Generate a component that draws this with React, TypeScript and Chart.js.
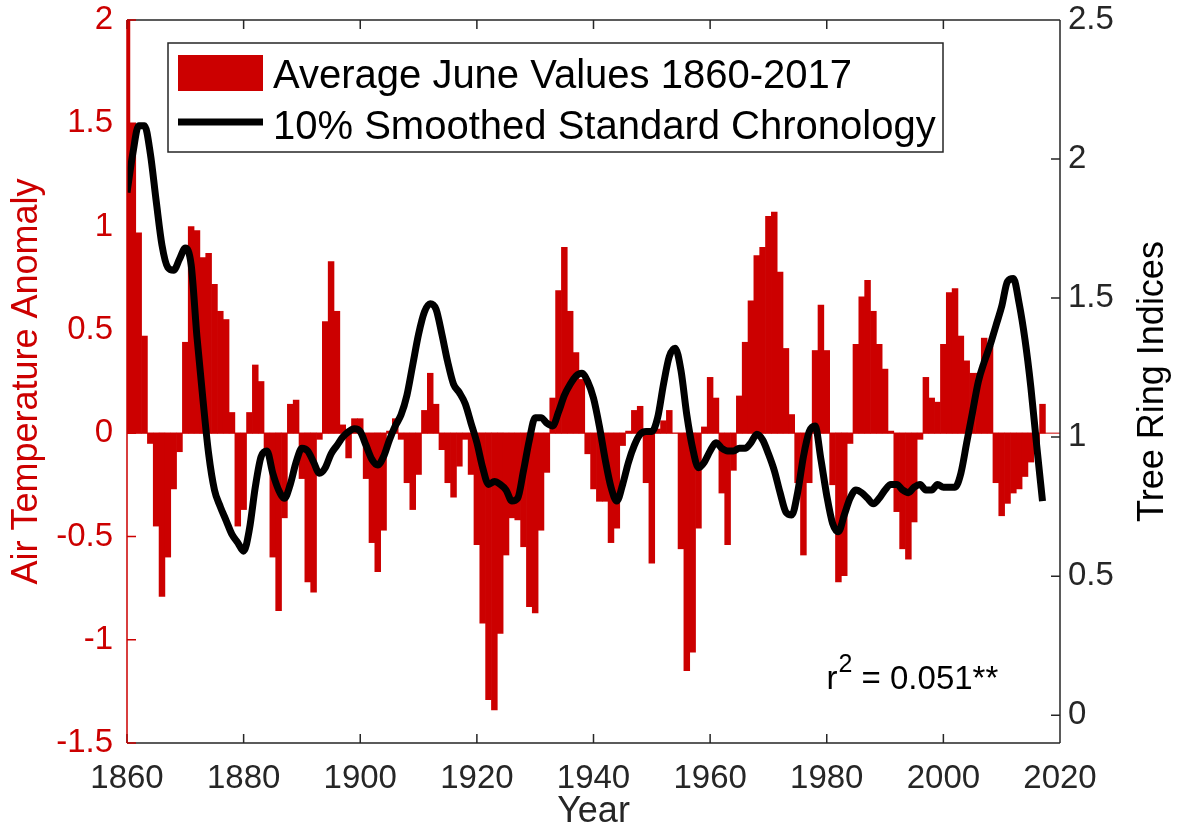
import React, { useEffect, useRef } from "react";
import { Chart, registerables } from "chart.js";

Chart.register(...registerables);

const START_YEAR = 1860;

// Average June air temperature anomaly (left axis), one value per year
const TEMP_1860S = [2.1, 1.5, 0.97, 0.47, -0.05, -0.45, -0.79, -0.6, -0.27, -0.09];
const TEMP_1870S = [0.44, 1.0, 0.98, 0.85, 0.87, 0.72, 0.59, 0.55, 0.1, -0.45];
const TEMP_1880S = [-0.37, 0.1, 0.33, 0.25, -0.1, -0.6, -0.86, -0.41, 0.14, 0.16];
const TEMP_1890S = [-0.22, -0.72, -0.77, -0.03, 0.54, 0.83, 0.59, 0.04, -0.12, 0.07];
const TEMP_1900S = [0.07, -0.22, -0.53, -0.67, -0.47, 0.01, 0.07, -0.03, -0.24, -0.37];
const TEMP_1910S = [-0.2, 0.11, 0.29, 0.14, -0.08, -0.24, -0.31, -0.16, -0.03, -0.2];
const TEMP_1920S = [-0.54, -0.92, -1.29, -1.34, -0.97, -0.59, -0.41, -0.42, -0.55, -0.84];
const TEMP_1930S = [-0.87, -0.47, -0.19, 0.17, 0.69, 0.9, 0.59, 0.39, 0.26, -0.1];
const TEMP_1940S = [-0.27, -0.33, -0.33, -0.53, -0.46, -0.06, 0.01, 0.11, 0.13, -0.24];
const TEMP_1950S = [-0.63, 0.02, 0.06, 0.11, 0.0, -0.56, -1.15, -1.06, -0.46, 0.03];
const TEMP_1960S = [0.27, 0.17, -0.29, -0.54, -0.18, 0.18, 0.44, 0.64, 0.86, 0.9];
const TEMP_1970S = [1.05, 1.07, 0.78, 0.41, 0.09, -0.24, -0.59, -0.24, 0.4, 0.62];
const TEMP_1980S = [0.4, -0.25, -0.72, -0.69, -0.05, 0.43, 0.66, 0.74, 0.59, 0.43];
const TEMP_1990S = [0.31, 0.01, -0.38, -0.56, -0.61, -0.43, -0.03, 0.27, 0.17, 0.15];
const TEMP_2000S = [0.43, 0.68, 0.7, 0.47, 0.35, 0.29, 0.29, 0.46, 0.42, -0.24];
const TEMP_2010S = [-0.4, -0.34, -0.29, -0.27, -0.21, -0.14, -0.07, 0.14];

// 10% smoothed standard chronology (right axis), one value per year
const CHRON_1860S = [1.88, 2.02, 2.12, 2.12, 2.02, 1.85, 1.69, 1.61, 1.6, 1.64];
const CHRON_1870S = [1.68, 1.62, 1.36, 1.14, 0.94, 0.81, 0.75, 0.7, 0.65, 0.62];
const CHRON_1880S = [0.59, 0.67, 0.82, 0.93, 0.95, 0.87, 0.81, 0.78, 0.83, 0.91];
const CHRON_1890S = [0.96, 0.95, 0.91, 0.87, 0.89, 0.94, 0.97, 1.0, 1.02, 1.03];
const CHRON_1900S = [1.02, 0.97, 0.92, 0.9, 0.93, 0.99, 1.04, 1.08, 1.15, 1.26];
const CHRON_1910S = [1.37, 1.45, 1.48, 1.46, 1.37, 1.27, 1.19, 1.16, 1.12, 1.05];
const CHRON_1920S = [0.98, 0.89, 0.83, 0.84, 0.83, 0.81, 0.77, 0.78, 0.88, 0.99];
const CHRON_1930S = [1.07, 1.07, 1.05, 1.04, 1.09, 1.15, 1.19, 1.22, 1.23, 1.2];
const CHRON_1940S = [1.14, 1.04, 0.92, 0.82, 0.77, 0.83, 0.91, 0.97, 1.01, 1.02];
const CHRON_1950S = [1.02, 1.07, 1.19, 1.29, 1.32, 1.24, 1.08, 0.96, 0.89, 0.91];
const CHRON_1960S = [0.95, 0.98, 0.96, 0.95, 0.95, 0.96, 0.96, 0.98, 1.01, 0.99];
const CHRON_1970S = [0.94, 0.88, 0.8, 0.73, 0.72, 0.8, 0.93, 1.02, 1.04, 0.92];
const CHRON_1980S = [0.79, 0.69, 0.66, 0.72, 0.78, 0.81, 0.8, 0.78, 0.76, 0.78];
const CHRON_1990S = [0.81, 0.83, 0.83, 0.81, 0.8, 0.82, 0.83, 0.81, 0.81, 0.83];
const CHRON_2000S = [0.82, 0.82, 0.82, 0.87, 0.98, 1.09, 1.2, 1.27, 1.33, 1.4];
const CHRON_2010S = [1.47, 1.56, 1.57, 1.48, 1.35, 1.18, 0.97, 0.77];

const TEMP = [
  ...TEMP_1860S, ...TEMP_1870S, ...TEMP_1880S, ...TEMP_1890S,
  ...TEMP_1900S, ...TEMP_1910S, ...TEMP_1920S, ...TEMP_1930S,
  ...TEMP_1940S, ...TEMP_1950S, ...TEMP_1960S, ...TEMP_1970S,
  ...TEMP_1980S, ...TEMP_1990S, ...TEMP_2000S, ...TEMP_2010S,
];
const CHRON = [
  ...CHRON_1860S, ...CHRON_1870S, ...CHRON_1880S, ...CHRON_1890S,
  ...CHRON_1900S, ...CHRON_1910S, ...CHRON_1920S, ...CHRON_1930S,
  ...CHRON_1940S, ...CHRON_1950S, ...CHRON_1960S, ...CHRON_1970S,
  ...CHRON_1980S, ...CHRON_1990S, ...CHRON_2000S, ...CHRON_2010S,
];
const YEARS = TEMP.map((_, i) => START_YEAR + i);

const X_TICKS = [1860, 1880, 1900, 1920, 1940, 1960, 1980, 2000, 2020];
const LEFT_TICKS = [-1.5, -1, -0.5, 0, 0.5, 1, 1.5, 2];
const RIGHT_TICKS = [0, 0.5, 1, 1.5, 2, 2.5];

const BAR_LABEL = "Average June Values 1860-2017";
const LINE_LABEL = "10% Smoothed Standard Chronology";
const X_TITLE = "Year";
const LEFT_TITLE = "Air Temperature Anomaly";
const RIGHT_TITLE = "Tree Ring Indices";
const R2_BASE = "r";
const R2_SUP = "2";
const R2_REST = " = 0.051**";

const FONT = '"Liberation Sans", Arial, Helvetica, sans-serif';
const RED = "#cc0000";
const AXIS = "#262626";

const overlayPlugin = {
  id: "matlabOverlay",
  beforeDatasetsDraw(chart: any) {
    const { ctx, chartArea: a, scales } = chart;
    const y0 = scales.y.getPixelForValue(0);
    ctx.save();
    ctx.strokeStyle = RED;
    ctx.lineWidth = 1;
    ctx.beginPath();
    ctx.moveTo(a.left, y0);
    ctx.lineTo(a.right, y0);
    ctx.stroke();
    ctx.restore();
  },
  afterDatasetsDraw(chart: any) {
    const { ctx, chartArea: a, scales } = chart;
    const T = 9;
    ctx.save();
    ctx.lineCap = "butt";
    ctx.lineWidth = 1.5;

    // dark frame (top, bottom, right) and inward ticks
    ctx.strokeStyle = AXIS;
    ctx.beginPath();
    X_TICKS.forEach((v) => {
      const px = scales.x.getPixelForValue(v);
      ctx.moveTo(px, a.bottom);
      ctx.lineTo(px, a.bottom - T);
      ctx.moveTo(px, a.top);
      ctx.lineTo(px, a.top + T);
    });
    RIGHT_TICKS.forEach((v) => {
      const py = scales.y2.getPixelForValue(v);
      ctx.moveTo(a.right, py);
      ctx.lineTo(a.right - T, py);
    });
    ctx.moveTo(a.left, a.top);
    ctx.lineTo(a.right, a.top);
    ctx.moveTo(a.left, a.bottom);
    ctx.lineTo(a.right, a.bottom);
    ctx.moveTo(a.right, a.top);
    ctx.lineTo(a.right, a.bottom);
    ctx.stroke();

    // red left axis
    ctx.strokeStyle = RED;
    ctx.beginPath();
    LEFT_TICKS.forEach((v) => {
      const py = scales.y.getPixelForValue(v);
      ctx.moveTo(a.left, py);
      ctx.lineTo(a.left + T, py);
    });
    ctx.moveTo(a.left, a.top);
    ctx.lineTo(a.left, a.bottom);
    ctx.stroke();

    // legend box
    const lx = a.left + 41;
    const ly = a.top + 23;
    const lw = 775;
    const lh = 109;
    ctx.fillStyle = "#ffffff";
    ctx.fillRect(lx, ly, lw, lh);
    ctx.strokeStyle = AXIS;
    ctx.lineWidth = 1.5;
    ctx.strokeRect(lx, ly, lw, lh);
    ctx.fillStyle = RED;
    ctx.fillRect(lx + 10, ly + 12, 85, 36);
    ctx.strokeStyle = "#000000";
    ctx.lineWidth = 7;
    ctx.beginPath();
    ctx.moveTo(lx + 10, ly + 79);
    ctx.lineTo(lx + 95, ly + 79);
    ctx.stroke();
    ctx.fillStyle = "#000000";
    ctx.font = `40px ${FONT}`;
    ctx.textAlign = "left";
    ctx.textBaseline = "alphabetic";
    ctx.fillText(BAR_LABEL, lx + 105, ly + 45);
    ctx.fillText(LINE_LABEL, lx + 105, ly + 95.5);

    // r^2 annotation
    const rx = a.left + 699.5;
    const ry = a.top + 669;
    ctx.font = `33px ${FONT}`;
    ctx.fillText(R2_BASE, rx, ry);
    const w1 = ctx.measureText(R2_BASE).width;
    ctx.font = `25px ${FONT}`;
    ctx.fillText(R2_SUP, rx + w1 + 1, ry - 17);
    const w2 = ctx.measureText(R2_SUP).width;
    ctx.font = `33px ${FONT}`;
    ctx.fillText(R2_REST, rx + w1 + 1 + w2, ry);

    // right axis title (reads bottom to top)
    ctx.save();
    ctx.translate(a.right + 93, (a.top + a.bottom) / 2);
    ctx.rotate(-Math.PI / 2);
    ctx.textAlign = "center";
    ctx.textBaseline = "middle";
    ctx.font = `36px ${FONT}`;
    ctx.fillStyle = "#000000";
    ctx.fillText(RIGHT_TITLE, 0, 0);
    ctx.restore();

    ctx.restore();
  },
};

export default function App() {
  const canvasRef = useRef<HTMLCanvasElement | null>(null);

  useEffect(() => {
    document.body.style.margin = "0";
    const canvas = canvasRef.current;
    if (!canvas) return;
    Chart.defaults.font.family = FONT;

    const chart = new Chart(canvas, {
      type: "bar",
      data: {
        datasets: [
          {
            type: "line",
            label: LINE_LABEL,
            data: YEARS.map((x, i) => ({ x, y: CHRON[i] })),
            borderColor: "#000000",
            borderWidth: 7,
            borderJoinStyle: "round",
            borderCapStyle: "butt",
            pointRadius: 0,
            cubicInterpolationMode: "monotone",
            fill: false,
            xAxisID: "x",
            yAxisID: "y2",
            order: 1,
          } as any,
          {
            type: "bar",
            label: BAR_LABEL,
            data: YEARS.map((x, i) => ({ x, y: TEMP[i] })),
            backgroundColor: RED,
            borderWidth: 0,
            barPercentage: 1,
            categoryPercentage: 1,
            xAxisID: "x",
            yAxisID: "y",
            clip: 0,
            order: 2,
          } as any,
        ],
      },
      options: {
        animation: false,
        responsive: false,
        devicePixelRatio: 1,
        events: [],
        layout: { padding: { top: 20, left: 0, right: 0, bottom: 0 } },
        plugins: {
          legend: { display: false },
          tooltip: { enabled: false },
        },
        scales: {
          x: {
            type: "linear",
            position: "bottom",
            min: 1860,
            max: 2020,
            offset: false,
            grid: { display: false, drawTicks: false },
            border: { display: false },
            afterBuildTicks: (s: any) => {
              s.ticks = X_TICKS.map((v) => ({ value: v }));
            },
            afterFit: (s: any) => {
              s.height = 91;
              s.paddingLeft = 0;
              s.paddingRight = 0;
            },
            ticks: {
              autoSkip: false,
              maxRotation: 0,
              padding: 16,
              color: AXIS,
              font: { size: 33, family: FONT },
              callback: (v: any) => String(v),
            },
            title: {
              display: true,
              text: X_TITLE,
              color: AXIS,
              font: { size: 36, family: FONT },
              padding: { top: 0, bottom: 0 },
            },
          },
          y: {
            type: "linear",
            position: "left",
            min: -1.5,
            max: 2,
            grid: { display: false, drawTicks: false },
            border: { display: false },
            afterBuildTicks: (s: any) => {
              s.ticks = LEFT_TICKS.map((v) => ({ value: v }));
            },
            afterFit: (s: any) => {
              s.width = 127;
              s.paddingTop = 0;
              s.paddingBottom = 0;
            },
            ticks: {
              padding: 14,
              color: RED,
              font: { size: 33, family: FONT },
              callback: (v: any) => String(v),
            },
            title: {
              display: true,
              text: LEFT_TITLE,
              color: RED,
              font: { size: 36, family: FONT },
              padding: { top: 5, bottom: 0 },
            },
          },
          y2: {
            type: "linear",
            position: "right",
            min: -0.1,
            max: 2.5,
            grid: { display: false, drawTicks: false },
            border: { display: false },
            afterBuildTicks: (s: any) => {
              s.ticks = RIGHT_TICKS.map((v) => ({ value: v }));
            },
            afterFit: (s: any) => {
              s.width = 124;
              s.paddingTop = 0;
              s.paddingBottom = 0;
            },
            ticks: {
              padding: 8,
              color: AXIS,
              font: { size: 33, family: FONT },
              callback: (v: any) => String(v),
            },
          },
        },
      } as any,
      plugins: [overlayPlugin],
    });

    return () => {
      chart.destroy();
    };
  }, []);

  return (
    <div style={{ width: 1184, height: 834, position: "relative", background: "#ffffff" }}>
      <canvas ref={canvasRef} width={1184} height={834} style={{ display: "block" }} />
    </div>
  );
}
